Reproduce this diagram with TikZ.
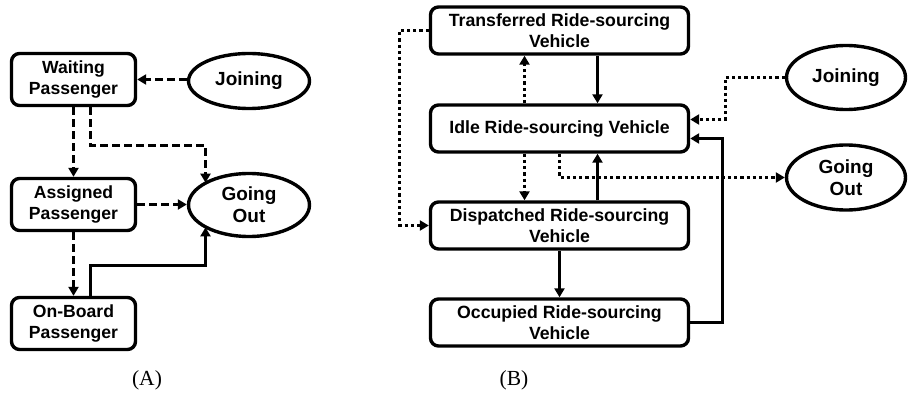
\documentclass[tikz,border=0pt]{standalone}
\usepackage{fontspec}
\setmainfont{Liberation Sans}
\newfontfamily\capfont{Liberation Serif}
\usetikzlibrary{arrows.meta,shapes.geometric}
\begin{document}
\begin{tikzpicture}[x=1pt,y=-1pt,
  abox/.style={draw, line width=3.4pt, rounded corners=8pt, minimum width=124pt, minimum height=52pt, align=center, inner sep=2pt, font=\bfseries\fontsize{17.6}{20.5}\selectfont},
  bbox/.style={abox, minimum width=258pt, minimum height=47pt, font=\bfseries\fontsize{17.7}{21}\selectfont},
  ell/.style={draw, ellipse, line width=3.4pt, inner sep=0pt, align=center, font=\bfseries\fontsize{19}{22}\selectfont},
  conn/.style={line width=3.2pt, -{Triangle[length=9pt,width=10pt]}},
  dsh/.style={conn, dash pattern=on 8pt off 4pt},
  dtt/.style={conn, dash pattern=on 3.2pt off 3pt},
  captxt/.style={font=\capfont\fontsize{21.5}{21.5}\selectfont, inner sep=0pt}
]
\useasboundingbox (0,0) rectangle (909,401);

% ---------- Panel A ----------
\node[abox] (wait) at (73.5,79.5) {Waiting\\Passenger};
\node[abox] (asg) at (73.5,204.5) {Assigned\\Passenger};
\node[abox] (onb) at (73.5,323.5) {On-Board\\Passenger};
\node[ell, minimum width=121pt, minimum height=55pt] (joinA) at (249,81) {Joining};
\node[ell, minimum width=121pt, minimum height=63pt] (outA) at (249,205) {Going\\Out};

\coordinate (a1) at (90.5,145.5);
\coordinate (a2) at (205.5,145.5);
\coordinate (a3) at (90.5,265.5);
\coordinate (a4) at (205.5,265.5);

\draw[dsh] (joinA.west |- wait.east) -- (wait.east);
\draw[dsh] (wait.south) -- (asg.north);
\draw[dsh] (wait.south -| a1) -- (a1) -- (a2) -- (a2 |- outA.154);
\draw[dsh] (asg.east) -- (outA.west |- asg.east);
\draw[dsh] (asg.south) -- (onb.north);
\draw[conn] (onb.north -| a3) -- (a3) -- (a4) -- (a4 |- outA.206);

\node[captxt] (capA) at (147,380) {(A)};

% ---------- Panel B ----------
\node[bbox] (tr) at (559.5,30.5) {Transferred Ride-sourcing\\Vehicle};
\node[bbox] (idle) at (559.5,128.5) {Idle Ride-sourcing Vehicle};
\node[bbox] (disp) at (559.5,225.5) {Dispatched Ride-sourcing\\Vehicle};
\node[bbox] (occ) at (559.5,322.5) {Occupied Ride-sourcing\\Vehicle};
\node[ell, minimum width=119pt, minimum height=64pt] (joinB) at (846,77.5) {Joining};
\node[ell, minimum width=119pt, minimum height=65pt] (outB) at (846,177.5) {Going\\Out};

\coordinate (b1) at (597.5,0);
\coordinate (b2) at (524.5,0);
\coordinate (b3) at (399.5,30.5);
\coordinate (b4) at (722.5,138.5);
\coordinate (b5) at (725.5,119.5);

\draw[conn] (tr.south -| b1) -- (idle.north -| b1);
\draw[dtt] (idle.north -| b2) -- (tr.south -| b2);
\draw[dtt] (idle.south -| b2) -- (disp.north -| b2);
\draw[conn] (disp.north -| b1) -- (idle.south -| b1);
\draw[dtt] (idle.south) |- (outB.west);
\draw[dtt] (tr.west) -- (b3) |- (disp.west);
\draw[conn] (disp.south) -- (occ.north);
\draw[conn] (occ.east) -| (b4) -- (idle.east |- b4);
\draw[dtt] (joinB.west) -| (b5) -- (idle.east |- b5);

\node[captxt] (capB) at (514,380) {(B)};
\end{tikzpicture}
\end{document}
